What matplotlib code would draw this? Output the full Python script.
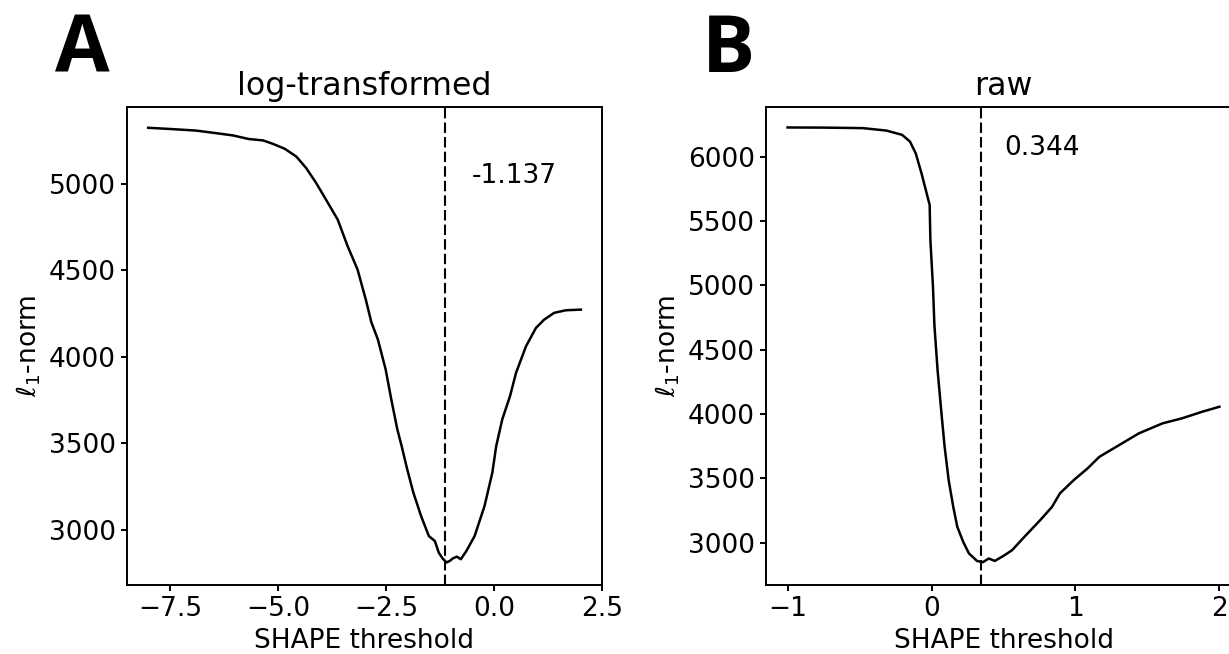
import numpy as np
import matplotlib
matplotlib.use("Agg")
import matplotlib.pyplot as plt

# ---- panel A: log-transformed ----
thr_log = [-8.01, -7.5, -6.91, -6.5, -6.05, -5.68, -5.35, -5.13, -4.85, -4.58,
           -4.35, -4.12, -3.89, -3.62, -3.39, -3.16, -2.97, -2.84, -2.69, -2.51,
           -2.38, -2.24, -2.14, -2.01, -1.87, -1.69, -1.51, -1.37, -1.28, -1.19,
           -1.10, -1.02, -0.96, -0.86, -0.77, -0.64, -0.45, -0.22, -0.04, 0.05,
           0.19, 0.37, 0.51, 0.74, 0.97, 1.16, 1.39, 1.66, 2.01]
l1_log = [5325, 5318, 5309, 5296, 5281, 5260, 5252, 5233, 5204, 5159,
          5092, 5006, 4909, 4794, 4640, 4505, 4332, 4200, 4101, 3928,
          3755, 3582, 3485, 3350, 3217, 3081, 2965, 2936, 2869, 2835,
          2812, 2822, 2835, 2846, 2831, 2879, 2965, 3139, 3331, 3485,
          3639, 3774, 3909, 4062, 4168, 4216, 4255, 4270, 4274]
best_log = -1.137

# ---- panel B: raw ----
thr_raw = [-1.0, -0.75, -0.478, -0.314, -0.205, -0.15, -0.11, -0.07, -0.04, -0.013,
           -0.008, 0.01, 0.02, 0.042, 0.069, 0.091, 0.119, 0.151, 0.179, 0.22,
           0.26, 0.316, 0.356, 0.398, 0.44, 0.508, 0.56, 0.645, 0.755, 0.837,
           0.892, 0.988, 1.084, 1.166, 1.303, 1.44, 1.605, 1.74, 1.88, 2.0]
l1_raw = [6226, 6225, 6221, 6202, 6169, 6117, 6026, 5871, 5741, 5624,
          5352, 4989, 4690, 4341, 4005, 3745, 3486, 3278, 3123, 3006,
          2916, 2858, 2848, 2877, 2858, 2903, 2942, 3045, 3175, 3278,
          3383, 3486, 3577, 3667, 3758, 3849, 3927, 3966, 4017, 4056]
best_raw = 0.344

fs = 19
plt.rcParams.update({
    "font.family": "DejaVu Sans",
    "font.size": fs,
    "axes.linewidth": 1.4,
    "xtick.major.width": 1.4,
    "ytick.major.width": 1.4,
    "xtick.major.size": 4.5,
    "ytick.major.size": 4.5,
})

fig = plt.figure(figsize=(12.29, 6.54), dpi=100)
W, H = 1229.0, 654.0
axA = fig.add_axes([127 / W, (H - 585) / H, 475 / W, 478.5 / H])
# the right-hand panel runs past the right edge of the picture, as in the reference
axB = fig.add_axes([766 / W, (H - 585) / H, 475 / W, 478.5 / H])

# panel A
axA.plot(thr_log, l1_log, color="black", linewidth=1.8)
axA.axvline(best_log, color="black", linestyle="--", linewidth=1.5, dashes=(5, 2))
axA.text(-0.51, 5048, "-1.137", ha="left", va="center", fontsize=fs)
axA.set_xlim(-8.5, 2.5)
axA.set_ylim(2682, 5448)
axA.set_xticks([-7.5, -5.0, -2.5, 0.0, 2.5])
axA.set_yticks([3000, 3500, 4000, 4500, 5000])
axA.set_title("log-transformed", fontsize=fs * 1.2, pad=8)
axA.set_xlabel("SHAPE threshold")
axA.set_ylabel(r"$\ell_1$-norm")

# panel B
axB.plot(thr_raw, l1_raw, color="black", linewidth=1.8)
axB.axvline(best_raw, color="black", linestyle="--", linewidth=1.5, dashes=(5, 2))
axB.text(0.503, 6068, "0.344", ha="left", va="center", fontsize=fs)
axB.set_xlim(-1.15, 2.15)
axB.set_ylim(2671, 6389)
axB.set_xticks([-1, 0, 1, 2])
axB.set_yticks([3000, 3500, 4000, 4500, 5000, 5500, 6000])
axB.set_title("raw", fontsize=fs * 1.2, pad=8)
axB.set_xlabel("SHAPE threshold")
axB.set_ylabel(r"$\ell_1$-norm")

# panel letters
fig.text(55 / W, 1 - 72 / H, "A", family="Open Sans", weight="bold",
         fontsize=57, ha="left", va="baseline")
fig.text(702 / W, 1 - 72 / H, "B", family="Open Sans", weight="bold",
         fontsize=57, ha="left", va="baseline")

fig.savefig("out.png", dpi=100)
